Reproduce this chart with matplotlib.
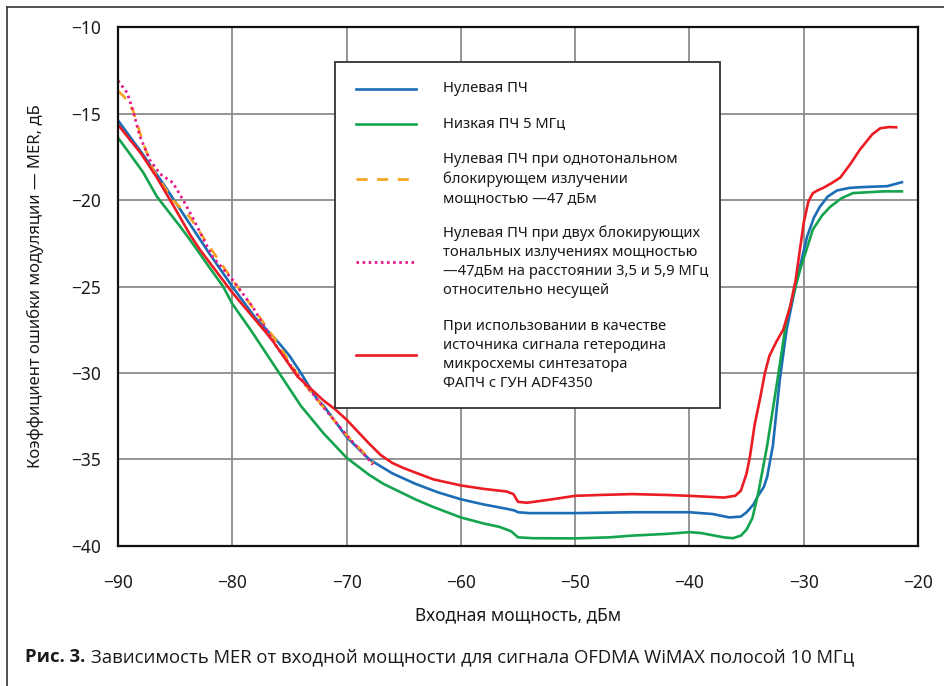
import matplotlib
matplotlib.use("Agg")
import matplotlib.pyplot as plt
from matplotlib.lines import Line2D
from matplotlib.patches import Rectangle

plt.rcParams['font.family'] = ['Noto Sans', 'DejaVu Sans']

# Нулевая ПЧ
x_zero = [-90, -88, -86, -84, -82, -80, -78, -77, -76, -75, -74, -72.6, -72, -70, -68,
          -66, -64, -62, -60, -58, -56, -55.3, -55, -54, -50, -45, -40, -38, -36.5,
          -35.5, -35, -34.4, -34, -33.5, -33.2, -32.7, -32.1, -31.5, -30.6, -29.7, -29.1, -28.6,
          -27.9, -27.1, -26, -24.8, -22.7, -21.3]
y_zero = [-15.4, -17.2, -19.1, -21.1, -23.1, -25.0, -26.8, -27.5, -28.2, -29.0, -30.0, -31.5, -31.9, -33.7, -35.0,
          -35.8, -36.4, -36.9, -37.3, -37.6, -37.85, -37.95, -38.05, -38.1, -38.1, -38.05, -38.05, -38.15, -38.35,
          -38.3, -38.05, -37.6, -37.1, -36.6, -36.0, -34.2, -30.4, -27.5, -24.6, -22.1, -21.0, -20.4,
          -19.8, -19.45, -19.3, -19.25, -19.2, -18.95]

# Низкая ПЧ 5 МГц
x_low = [-90, -89, -87.8, -86.6, -84.6, -83.7, -82, -80.8, -80, -78.4, -77, -75.5, -74, -72,
         -70, -68, -66.8, -64, -62.4, -60, -58, -56.6, -55.6, -55, -53.7, -50, -47, -45,
         -42, -40, -39, -37, -36.2, -35.5, -35, -34.5, -34, -33.6, -33.2, -32.3, -31.5, -30.3,
         -29.2, -28.4, -27.7, -26.7, -25.7, -23, -21.3]
y_low = [-16.4, -17.3, -18.4, -19.8, -21.5, -22.3, -23.9, -25.0, -26.0, -27.5, -28.9, -30.4, -31.9, -33.5,
         -34.9, -35.9, -36.4, -37.3, -37.75, -38.35, -38.7, -38.9, -39.15, -39.5, -39.55, -39.56, -39.5, -39.4,
         -39.3, -39.2, -39.25, -39.5, -39.55, -39.4, -39.05, -38.4, -37.0, -35.6, -34.2, -30.4, -26.9, -24.0,
         -21.7, -20.9, -20.4, -19.9, -19.6, -19.5, -19.5]

# Нулевая ПЧ, однотональная блокировка
x_one = [-90, -89.5, -88.7, -87.8, -86.9, -85.2, -83.7, -82.8, -82, -80, -77.9, -76.1,
         -74.1, -72, -70, -68.2, -67.7]
y_one = [-13.7, -14.0, -14.8, -16.7, -18.3, -20.0, -21.0, -21.9, -22.7, -24.6, -26.5, -28.2,
         -30.3, -32.0, -33.6, -34.8, -35.2]

# Нулевая ПЧ, две блокирующие помехи
x_two = [-90, -89.2, -88.7, -88.1, -87.2, -86.3, -85.2, -84.3, -83.4, -82.5, -81.7, -80,
         -78.2, -76.1, -74.4, -72, -70, -68.2, -67.7]
y_two = [-13.1, -13.8, -14.8, -16.3, -17.7, -18.5, -19.0, -20.0, -21.1, -22.3, -23.3, -24.6,
         -26.2, -28.5, -30.0, -32.0, -33.6, -34.9, -35.3]

# ADF4350
x_adf = [-90, -88, -86.6, -85, -83.7, -82.8, -80, -77, -76.4, -74.3, -72, -71, -70, -69, -68,
         -67, -66, -65, -64, -62.4, -60, -58, -56, -55.4, -55, -54.2, -52, -50, -47.8, -45, -42,
         -40, -37, -36, -35.5, -35, -34.7, -34.3, -33.8, -33.4, -33, -32.4, -31.8, -31.2, -30.7,
         -30.3, -30, -29.6, -29.2, -28.8, -28.3, -27.5, -26.8, -25.9, -25.1, -24, -23.3, -22.5, -21.8]
y_adf = [-15.65, -17.3, -18.7, -20.5, -22.0, -22.9, -25.35, -27.7, -28.2, -30.2, -31.6, -32.1, -32.7, -33.4, -34.1,
         -34.75, -35.2, -35.5, -35.75, -36.15, -36.5, -36.7, -36.85, -37.0, -37.45, -37.5, -37.3, -37.1, -37.05, -37.0, -37.05,
         -37.1, -37.2, -37.1, -36.8, -35.8, -34.8, -33.0, -31.4, -30.0, -29.0, -28.2, -27.5, -26.2, -24.6,
         -22.7, -21.3, -20.1, -19.6, -19.45, -19.3, -19.0, -18.7, -17.9, -17.1, -16.2, -15.85, -15.78, -15.8]

labels = ["Нулевая ПЧ",
          "Низкая ПЧ 5 МГц",
          "Нулевая ПЧ при однотональном\nблокирующем излучении\nмощностью \u201447 дБм",
          "Нулевая ПЧ при двух блокирующих\nтональных излучениях мощностью\n\u201447дБм на расстоянии 3,5 и 5,9 МГц\nотносительно несущей",
          "При использовании в качестве\nисточника сигнала гетеродина\nмикросхемы синтезатора\nФАПЧ с ГУН ADF4350"]

xticks = [-90, -80, -70, -60, -50, -40, -30, -20]
yticks = [-40, -35, -30, -25, -20, -15, -10]

series = [
    (x_zero, y_zero, dict(color='#1b6db5', lw=1.9)),
    (x_low, y_low, dict(color='#14a44d', lw=1.9)),
    (x_one, y_one, dict(color='#f7a21b', lw=1.9, dashes=(4.2, 3.6))),
    (x_two, y_two, dict(color='#e5158a', lw=2.0, dashes=(0.9, 1.3))),
    (x_adf, y_adf, dict(color='#ec1c24', lw=1.9)),
]

fig = plt.figure(figsize=(9.44, 6.86), dpi=100)
ax = fig.add_axes([0.125, 0.2041, 0.8475, 0.7565])

for xs, ys, st in series:
    ax.plot(xs, ys, solid_joinstyle='round', solid_capstyle='butt', **st)

ax.set_xlim(-90, -20)
ax.set_ylim(-40, -10)
ax.set_xticks(xticks)
ax.set_yticks(yticks)
ax.grid(True, color='#8c8c8c', lw=1.3)
ax.set_axisbelow(True)
ax.tick_params(length=0, labelsize=12.5, colors='#1a1a1a')
ax.tick_params(axis='x', pad=20)
ax.tick_params(axis='y', pad=12)
for sp in ax.spines.values():
    sp.set_linewidth(1.6)
    sp.set_color('#111111')

# легенда
ax.add_patch(Rectangle((0.271, 0.266), 0.4815, 0.6666, transform=ax.transAxes,
                       facecolor='white', edgecolor='#333333', lw=1.3, zorder=5))
ys_leg = [0.8806, 0.8131, 0.7071, 0.5472, 0.3680]
for (xs, ys, st), lab, yl in zip(series, labels, ys_leg):
    ax.add_line(Line2D([0.2975, 0.3725], [yl, yl], transform=ax.transAxes, zorder=6, **st))
    ax.text(0.406, yl, lab, transform=ax.transAxes, fontsize=10.6, va='center', ha='left',
            linespacing=1.36, color='#1a1a1a', zorder=7)

fig.text(35 / 944, 1 - 286.5 / 686, "Коэффициент ошибки модуляции \u2014 MER, дБ", rotation=90,
         ha='center', va='center', fontsize=12, color='#1a1a1a')
fig.text(518 / 944, 1 - 615 / 686, "Входная мощность, дБм", ha='center', va='center',
         fontsize=12.5, color='#1a1a1a')

cap_font = ['Open Sans', 'Lato', 'DejaVu Sans']
t1 = fig.text(25 / 944, 1 - 657 / 686, "Рис. 3.", ha='left', va='center', fontsize=13.3,
              fontweight='bold', family=cap_font, color='#1a1a1a')
ax.annotate("Зависимость MER от входной мощности для сигнала OFDMA WiMAX полосой 10 МГц",
            xy=(1, 0.5), xycoords=t1, xytext=(4, 0), textcoords='offset points',
            ha='left', va='center', fontsize=13.3, family=cap_font, color='#1a1a1a',
            annotation_clip=False)

# рамка
fig.add_artist(Line2D([6.5 / 944, 6.5 / 944], [0, 1 - 7 / 686], transform=fig.transFigure,
                      color='#333333', lw=1.2))
fig.add_artist(Line2D([6.5 / 944, 1], [1 - 7 / 686, 1 - 7 / 686], transform=fig.transFigure,
                      color='#333333', lw=1.2))

fig.savefig('out.png', dpi=100)
